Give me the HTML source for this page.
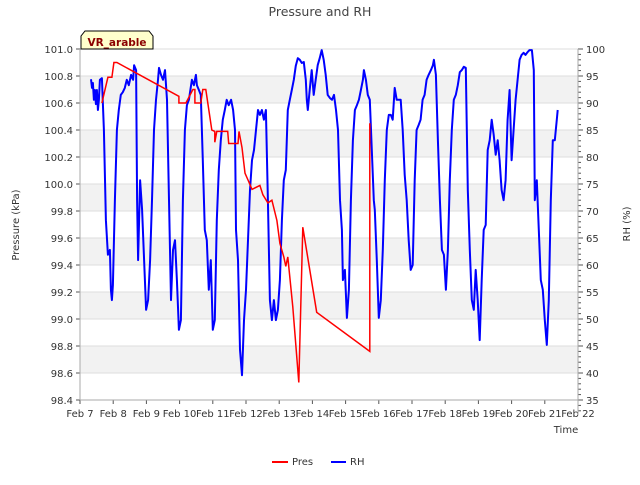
<!DOCTYPE html>
<html><head><meta charset="utf-8"><style>
body{margin:0;background:#fff;}
svg{font-family:"DejaVu Sans","Liberation Sans",sans-serif;}
</style></head><body>
<svg id="chart" width="640" height="480" viewBox="0 0 640 480">
<text x="320" y="16" text-anchor="middle" font-size="12.5" fill="#444">Pressure and RH</text>
<g id="grid"></g>
<g id="series"></g>
<g id="axes"></g>
<g>
<path d="M81,49 L81,36 L85,31 L149,31 L153,36 L153,49 Z" fill="#ffffcc" stroke="#000" stroke-width="1"/>
<text x="117" y="46" text-anchor="middle" font-size="10.5" font-weight="bold" fill="#8b0000">VR_arable</text>
</g>
<text x="19" y="225" transform="rotate(-90 19 225)" text-anchor="middle" font-size="10" fill="#333">Pressure (kPa)</text>
<text x="630" y="224" transform="rotate(-90 630 224)" text-anchor="middle" font-size="10" fill="#333">RH (%)</text>
<text x="566" y="433" text-anchor="middle" font-size="10" fill="#333">Time</text>
<g>
<g><line x1="272" y1="462" x2="288" y2="462" stroke="#f00" stroke-width="2"/><text x="292" y="465" font-size="10" fill="#333">Pres</text></g>
<g><line x1="331" y1="462" x2="346" y2="462" stroke="#00f" stroke-width="2"/><text x="350" y="465" font-size="10" fill="#333">RH</text></g>
</g>
</svg>
<script>
const xTickLabels=["Feb 7","Feb 8","Feb 9","Feb 10","Feb 11","Feb 12","Feb 13","Feb 14","Feb 15","Feb 16","Feb 17","Feb 18","Feb 19","Feb 20","Feb 21","Feb 22"];
const leftTicks=[98.4,98.6,98.8,99.0,99.2,99.4,99.6,99.8,100.0,100.2,100.4,100.6,100.8,101.0];
const rightTicks=[35,40,45,50,55,60,65,70,75,80,85,90,95,100];
const presDays=[0.66,0.84,0.96,1.02,1.11,2.98,2.98,3.19,3.40,3.46,3.46,3.64,3.70,3.79,3.91,3.97,4.06,4.06,4.12,4.45,4.48,4.76,4.79,4.88,4.97,5.06,5.18,5.42,5.51,5.66,5.78,5.93,6.02,6.14,6.20,6.26,6.41,6.59,6.71,7.13,8.73,8.73];
const presVals=[100.60,100.79,100.79,100.90,100.90,100.65,100.60,100.60,100.70,100.70,100.60,100.60,100.70,100.70,100.50,100.40,100.39,100.31,100.39,100.39,100.30,100.30,100.39,100.27,100.08,100.03,99.96,99.99,99.92,99.86,99.88,99.73,99.56,99.46,99.39,99.46,99.09,98.53,99.68,99.05,98.76,100.45];
const rhDays=[0.33,0.36,0.39,0.42,0.45,0.48,0.51,0.54,0.57,0.60,0.66,0.72,0.78,0.84,0.90,0.93,0.96,0.99,1.05,1.11,1.17,1.23,1.29,1.35,1.41,1.47,1.54,1.60,1.63,1.69,1.72,1.75,1.81,1.87,1.93,1.99,2.05,2.11,2.17,2.23,2.29,2.35,2.38,2.44,2.50,2.56,2.62,2.68,2.74,2.80,2.86,2.92,2.98,3.04,3.10,3.16,3.22,3.28,3.37,3.43,3.49,3.52,3.58,3.64,3.70,3.76,3.82,3.88,3.94,4.00,4.06,4.12,4.18,4.24,4.30,4.36,4.42,4.48,4.55,4.61,4.67,4.70,4.76,4.82,4.88,4.94,5.00,5.06,5.12,5.18,5.24,5.30,5.36,5.42,5.48,5.54,5.60,5.66,5.72,5.78,5.84,5.90,5.96,6.02,6.08,6.14,6.20,6.26,6.32,6.38,6.44,6.50,6.56,6.62,6.68,6.74,6.80,6.83,6.86,6.92,6.98,7.04,7.10,7.16,7.22,7.28,7.34,7.40,7.46,7.53,7.59,7.65,7.71,7.77,7.83,7.89,7.92,7.98,8.04,8.10,8.16,8.22,8.28,8.34,8.40,8.46,8.52,8.55,8.61,8.67,8.73,8.79,8.85,8.88,8.94,9.00,9.06,9.12,9.18,9.24,9.30,9.36,9.42,9.48,9.54,9.60,9.66,9.72,9.78,9.84,9.90,9.96,10.02,10.08,10.14,10.20,10.26,10.32,10.38,10.44,10.50,10.57,10.63,10.66,10.72,10.78,10.84,10.90,10.96,11.02,11.08,11.14,11.20,11.26,11.32,11.38,11.44,11.50,11.56,11.62,11.68,11.74,11.80,11.86,11.92,11.98,12.04,12.10,12.16,12.22,12.28,12.34,12.40,12.46,12.52,12.58,12.64,12.70,12.76,12.82,12.88,12.94,13.00,13.06,13.12,13.18,13.24,13.30,13.36,13.42,13.48,13.54,13.61,13.67,13.70,13.76,13.82,13.88,13.94,14.00,14.06,14.12,14.18,14.24,14.30,14.36,14.39];
const rhVals=[94.4,92.8,93.7,90.6,92.4,89.8,92.4,88.7,90.6,94.3,94.6,85,68.3,61.9,62.8,55.4,53.5,56.3,72,85,88.7,91.5,92,92.8,94.3,93.3,95.2,94.3,97,96.1,72,60.9,75.7,70.2,60.9,51.7,53.5,60.9,72,85,90.6,94.3,96.5,95.2,94.3,96.1,90.6,72,53.5,62.8,64.6,57.2,48,49.8,72,85,89.6,90.6,94.3,93.3,95.2,93.3,92.4,91.5,79.4,66.5,64.6,55.4,60.9,48,49.8,68.3,77.6,83.1,86.9,88.7,90.6,89.6,90.6,88.7,85,66.5,60.9,44.3,39.6,49.8,55.4,64.6,73.9,79.4,81.3,85,88.7,87.8,88.7,86.9,88.7,72,53.5,49.8,53.5,49.8,51.7,57.2,68.3,75.7,77.6,88.7,90.6,92.4,94.3,96.9,98.3,98,97.4,97.6,94.3,90.6,88.7,92.4,96.1,91.5,94.3,97,98.3,99.8,98,95.2,91.5,90.9,90.6,91.5,88.7,85,72,66.5,57.2,59.1,50.2,55.4,72,83.1,88.7,89.6,90.6,92.4,94.3,96.1,94.3,91.5,90.6,81.3,72,70.2,60.9,50.2,53.5,62.8,75.7,85,87.8,87.8,86.9,92.8,90.6,90.6,90.6,85,76.7,72,64.6,59.1,60,75.7,85,85.9,86.9,90.6,91.5,94.3,95.2,96.1,97,98,95.2,83.1,72,62.8,61.9,55.4,62.8,75.7,85,90.6,91.5,93.3,95.7,96.1,96.7,96.5,73.9,62.8,53.5,51.7,59.1,53.5,46.1,57.2,66.5,67.4,81.3,83.1,86.9,84.1,80.4,83.1,79.4,73.9,72,75.7,86.9,92.4,79.4,85,90.6,94.3,98,98.9,99.3,98.9,99.4,99.8,99.8,96.1,72,75.7,66.5,57.2,55.4,49.8,45.2,53.5,72,83.1,83.1,86.9,88.7];

const L=80,R=578,T=49,B=400;
const NS="http://www.w3.org/2000/svg";
const xS=d=>L+d/15*(R-L);
const yP=v=>B-(v-98.4)/2.6*(B-T);
const yH=v=>B-(v-35)/65*(B-T);
function mk(tag,attrs,parent){const e=document.createElementNS(NS,tag);for(const k in attrs)e.setAttribute(k,attrs[k]);parent.appendChild(e);return e;}
const grid=document.getElementById('grid'),axes=document.getElementById('axes'),series=document.getElementById('series');
mk('rect',{x:L,y:T,width:R-L,height:B-T,fill:'#fff'},grid);
for(let i=0;i<leftTicks.length-1;i++){
  if(i%2===1){const b=mk('rect',{x:L,y:yP(leftTicks[i+1]),width:R-L,height:yP(leftTicks[i])-yP(leftTicks[i+1]),fill:'#f2f2f2'},grid);
  
  }
}
leftTicks.forEach(v=>{
  const g=mk('line',{x1:L,x2:R,y1:yP(v),y2:yP(v),stroke:'#ddd','stroke-width':1},grid);
  
  
  mk('line',{x1:L-4,x2:L,y1:yP(v),y2:yP(v),stroke:'#555'},axes);
  const t=mk('text',{x:L-7,y:yP(v)+4,'text-anchor':'end','font-size':10,fill:'#333'},axes);
  t.textContent=v.toFixed(1);
  
  
});
rightTicks.forEach(v=>{
  mk('line',{x1:R,x2:R+5,y1:yH(v),y2:yH(v),stroke:'#555'},axes);
  const t=mk('text',{x:R+8,y:yH(v)+4,'font-size':10,fill:'#333'},axes);
  t.textContent=v;
  
  
});
for(let v=rightTicks[0]-5;v<=rightTicks[rightTicks.length-1];v++){
  if(yH(v)<=B+15) mk('line',{x1:R,x2:R+3,y1:yH(v),y2:yH(v),stroke:'#555'},axes);
}
xTickLabels.forEach((s,i)=>{
  mk('line',{x1:xS(i),x2:xS(i),y1:B,y2:B+4,stroke:'#555'},axes);
  const t=mk('text',{x:xS(i),y:B+17,'text-anchor':'middle','font-size':10,fill:'#333'},axes);
  t.textContent=s;
  
  
});
mk('line',{x1:L,x2:L,y1:T,y2:B,stroke:'#aaa'},axes);
mk('line',{x1:R,x2:R,y1:T,y2:B+15,stroke:'#aaa'},axes);
mk('line',{x1:L,x2:R,y1:B,y2:B,stroke:'#aaa'},axes);
const rh=mk('polyline',{points:rhDays.map((d,i)=>xS(d).toFixed(1)+','+yH(rhVals[i]).toFixed(1)).join(' '),fill:'none',stroke:'#00f','stroke-width':2,'stroke-linejoin':'round'},series);


const pr=mk('polyline',{points:presDays.map((d,i)=>xS(d).toFixed(1)+','+yP(presVals[i]).toFixed(1)).join(' '),fill:'none',stroke:'#f00','stroke-width':1.5},series);


</script>
</body></html>
